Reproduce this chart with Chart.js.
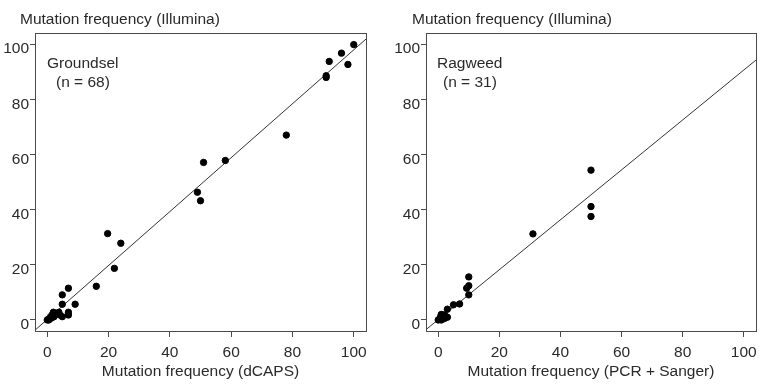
<!DOCTYPE html>
<html>
<head>
<meta charset="utf-8">
<script src="https://cdn.jsdelivr.net/npm/chart.js@4"></script>
<style>
  body { margin: 0; background: #fff; }
  #wrap { display: flex; width: 767px; height: 391px; }
  canvas { display: block; }
</style>
</head>
<body>
<div id="wrap">
  <canvas id="groundsel" width="384" height="391"></canvas>
  <canvas id="ragweed" width="383" height="391"></canvas>
</div>
<script>
const groundselX = [100, 96, 98.1, 92, 91, 91, 78, 58.1, 51, 49, 50, 19.7, 24, 21.9, 16, 6.9, 4.9, 4.9, 9.1, 6.9, 6.9, 3.8, 4.1, 4.9, 2, 1.6, 1.1, 0.3, 0, 2.2, 1, 0.5, 2, 3.5, 1.5];
const groundselY = [99.8, 96.7, 92.6, 93.7, 88.5, 87.9, 67, 57.8, 57.1, 46.3, 43.2, 31.3, 27.8, 18.7, 12.2, 11.5, 9.1, 5.7, 5.7, 2.8, 1.8, 2.8, 1.8, 1.2, 2.8, 1.8, 1.2, 0.2, 0, 1.2, 0.5, 0, 2, 2.5, 0.8];
const groundselFitX = [-4, 104];
const groundselFitY = [-3.7, 101.8];

const ragweedX = [50, 50, 50, 31, 10, 10, 9.3, 10, 7, 5, 3, 3, 2, 1.5, 1, 2.5, 0.5, 0, 1, 1.2, 2, 0.8];
const ragweedY = [54.3, 41.1, 37.5, 31.2, 15.6, 12.4, 11.5, 9.1, 5.8, 5.5, 3.9, 1, 1.8, 1.8, 2, 1.2, 0.3, 0, 0, 0.8, 0.5, 1.2];
const ragweedFitX = [-4, 104];
const ragweedFitY = [-3.5, 94.2];

const tickValues = [0, 20, 40, 60, 80, 100];
const yTitle = "Mutation frequency (Illumina)";

const FONT = "'Liberation Sans', Arial, sans-serif";
const TEXT = "#2a2a2a";
const INK = "#4a4a4a";

const toPoints = (xs, ys) => xs.map((x, i) => ({ x: x, y: ys[i] }));

// box round the plot area, the y title on top and the species label
const boxPlugin = {
  id: "box",
  afterDraw(chart, args, opts) {
    const { ctx, chartArea: a } = chart;
    ctx.save();
    ctx.strokeStyle = INK;
    ctx.lineWidth = 1;
    ctx.strokeRect(Math.round(a.left) + 0.5, Math.round(a.top) + 0.5,
      Math.round(a.right - a.left), Math.round(a.bottom - a.top));
    ctx.fillStyle = TEXT;
    ctx.font = "15.5px " + FONT;
    ctx.textBaseline = "middle";
    ctx.fillText(yTitle, opts.titleX, 20);
    ctx.fillText(opts.name, a.left + opts.dx, 64);
    ctx.fillText(opts.n, a.left + opts.dx + opts.ndx, 83);
    ctx.restore();
  },
};

const makeChart = (el, xs, ys, fx, fy, xTitle, padRight, yWidth, label) => {
  return new Chart(el, {
    type: "scatter",
    data: {
      datasets: [
        {
          data: toPoints(xs, ys),
          backgroundColor: "#000",
          borderColor: "#000",
          pointRadius: 3.2,
          pointHoverRadius: 3.2,
        },
        {
          type: "line",
          data: toPoints(fx, fy),
          borderColor: "#333",
          borderWidth: 1,
          pointRadius: 0,
          fill: false,
        },
      ],
    },
    options: {
      responsive: false,
      animation: false,
      events: [],
      layout: { padding: { left: 0, right: padRight, top: 33, bottom: 0 } },
      plugins: {
        legend: { display: false },
        tooltip: { enabled: false },
        title: { display: false },
        box: label,
      },
      scales: {
        x: {
          type: "linear",
          min: -4,
          max: 104,
          afterBuildTicks: (s) => { s.ticks = tickValues.map((v) => ({ value: v })); },
          afterFit: (s) => { s.height = 60; },
          grid: { drawOnChartArea: false, drawTicks: true, tickLength: 6, color: INK },
          border: { display: false },
          ticks: { color: TEXT, padding: 6, font: { family: FONT, size: 15.5 }, maxRotation: 0 },
          title: {
            display: true,
            text: xTitle,
            color: TEXT,
            font: { family: FONT, size: 15.5, lineHeight: 1.2 },
            padding: { top: 0, bottom: 9.7 },
          },
        },
        y: {
          type: "linear",
          min: -4,
          max: 104,
          afterBuildTicks: (s) => { s.ticks = tickValues.map((v) => ({ value: v })); },
          afterFit: (s) => { s.width = yWidth; },
          grid: { drawOnChartArea: false, drawTicks: true, tickLength: 5, color: INK },
          border: { display: false },
          ticks: { color: TEXT, padding: 1, labelOffset: 5, font: { family: FONT, size: 15.5 } },
        },
      },
    },
    plugins: [boxPlugin],
  });
};

makeChart(document.getElementById("groundsel"), groundselX, groundselY, groundselFitX, groundselFitY,
  "Mutation frequency (dCAPS)", 18, 35, { titleX: 20, name: "Groundsel", n: "(n = 68)", dx: 12, ndx: 9 });
makeChart(document.getElementById("ragweed"), ragweedX, ragweedY, ragweedFitX, ragweedFitY,
  "Mutation frequency (PCR + Sanger)", 11, 42, { titleX: 28, name: "Ragweed", n: "(n = 31)", dx: 11, ndx: 6 });
</script>
</body>
</html>
